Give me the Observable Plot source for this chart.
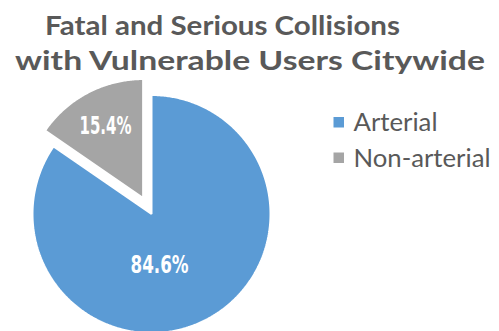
<!DOCTYPE html>
<html>
<head>
<meta charset="utf-8">
<script src="https://cdn.jsdelivr.net/npm/d3@7"></script>
<script src="https://cdn.jsdelivr.net/npm/@observablehq/plot@0.6"></script>
<style>
  html, body { margin: 0; padding: 0; background: #fff; overflow: hidden; }
  #wrap { position: relative; width: 499px; height: 331px; overflow: hidden; }
  #chart { position: absolute; left: 0; top: 0; }
  #overlay { position: absolute; left: 0; top: 0; pointer-events: none; }
</style>
</head>
<body>
<div id="wrap">
  <div id="chart"></div>
  <svg id="overlay" width="499" height="331"></svg>
</div>
<script>
// ---- data ----
const titleLines = ["Fatal and Serious Collisions", "with Vulnerable Users Citywide"];
const categories = ["Arterial", "Non-arterial"];
const values = [84.6, 15.4];
const colors = ["#5B9BD5", "#A5A5A5"];

// ---- layout ----
const R = 119;                 // pie radius (px)
const explode = [0, 18];       // slice offset (px)
const labelRadius = [0.43, 0.68];
const labelAngleShift = [18.7, 0]; // degrees
const labelWidths = [58, 52];      // condensed label widths (px)

// ---- build slices ----
const total = d3.sum(values);
const arcs = d3.pie().sort(null).value(d => d)(values);
const polys = [];
const labels = [];
arcs.forEach((a, i) => {
  const mid = (a.startAngle + a.endAngle) / 2;
  const ox = explode[i] * Math.sin(mid), oy = explode[i] * Math.cos(mid);
  const n = Math.max(2, Math.ceil((a.endAngle - a.startAngle) / 0.01));
  polys.push({cat: categories[i], x: ox, y: oy});
  for (let k = 0; k <= n; k++) {
    const t = a.startAngle + (a.endAngle - a.startAngle) * k / n;
    polys.push({cat: categories[i], x: ox + R * Math.sin(t), y: oy + R * Math.cos(t)});
  }
  polys.push({cat: categories[i], x: ox, y: oy});
  const la = mid + labelAngleShift[i] * Math.PI / 180;
  labels.push({
    text: d3.format(".1%")(values[i] / total),
    x: ox + labelRadius[i] * R * Math.sin(la),
    y: oy + labelRadius[i] * R * Math.cos(la)
  });
});

const chart = Plot.plot({
  width: 499,
  height: 331,
  margin: 0,
  x: {domain: [-151, 348], axis: null},
  y: {domain: [-117.5, 213.5], axis: null},
  color: {domain: categories, range: colors},
  marks: [
    Plot.line(polys, {x: "x", y: "y", z: "cat", fill: "cat", stroke: "white", strokeWidth: 2, strokeLinejoin: "miter", curve: "linear-closed"}),
    Plot.text(labels, {x: "x", y: "y", text: "text", fill: "white", fontSize: 25, fontWeight: "bold",
      fontFamily: "'DejaVu Sans', sans-serif"})
  ]
});
document.getElementById("chart").appendChild(chart);
d3.select(chart).selectAll("text").each(function(d, i) {
  if (i < labelWidths.length) {
    this.setAttribute("textLength", labelWidths[i]);
    this.setAttribute("lengthAdjust", "spacingAndGlyphs");
  }
});

// ---- title & legend overlay ----
const ov = d3.select("#overlay");
const titleSpec = [{x: 45, y: 35, w: 355}, {x: 15, y: 70, w: 470}];
titleLines.forEach((t, i) => {
  ov.append("text").attr("x", titleSpec[i].x).attr("y", titleSpec[i].y)
    .attr("textLength", titleSpec[i].w).attr("lengthAdjust", "spacingAndGlyphs")
    .attr("font-family", "Lato, 'Open Sans', sans-serif").attr("font-weight", "bold")
    .attr("font-size", 27.5).attr("fill", "#595959").text(t);
});
const legendSpec = [{y: 131, w: 84}, {y: 166.5, w: 137}];
categories.forEach((c, i) => {
  ov.append("rect").attr("x", 333.5).attr("y", legendSpec[i].y - 14).attr("width", 10.5).attr("height", 10.5)
    .attr("fill", colors[i]);
  ov.append("text").attr("x", 353.5).attr("y", legendSpec[i].y)
    .attr("textLength", legendSpec[i].w).attr("lengthAdjust", "spacingAndGlyphs")
    .attr("font-family", "Lato, 'Open Sans', sans-serif")
    .attr("font-size", 24.5).attr("fill", "#595959").text(c);
});
</script>
</body>
</html>
